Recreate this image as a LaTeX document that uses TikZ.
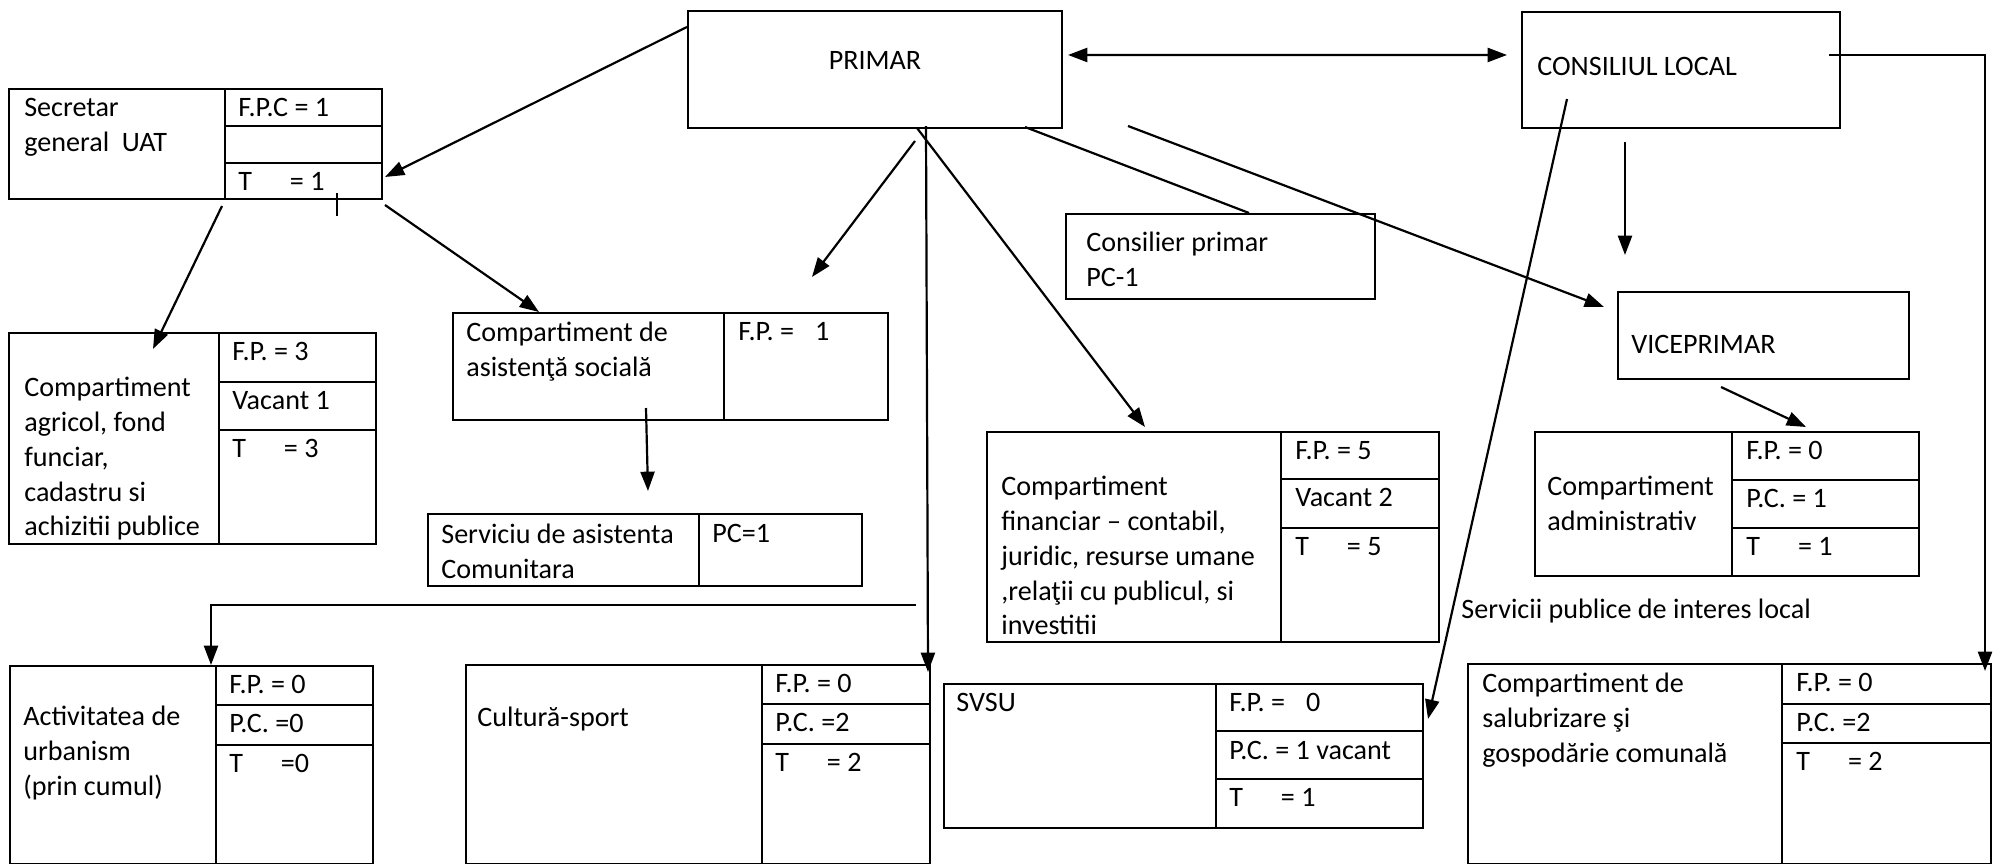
\documentclass[tikz,border=0pt]{standalone}
\usepackage{fontspec}
\setmainfont{Carlito}
\usetikzlibrary{arrows.meta,calc,fit}

\tikzset{
  cell/.style={draw, line width=1.15pt, inner sep=0pt},
  txt/.style={anchor=north west, inner sep=0pt, align=left},
  arr/.style={-{Triangle[length=11pt,width=8pt]}, line width=1.25pt},
}

\begin{document}
\begin{tikzpicture}[x=0.02cm, y=-0.02cm, font=\fontsize{16}{19.8}\selectfont]
      \useasboundingbox (0,0) rectangle (1994,864);
      \node[cell, fit={(688,11) (1062,128)}] (primar) {PRIMAR};
      \node[cell, fit={(1522,12) (1840,128)}] (cl) {};
      \node[cell, fit={(1066,214) (1375,299)}] (cons) {};
      \node[cell, fit={(1618,292) (1909,379)}] (vp) {};
      \node[cell, fit={(9,89) (225,199)}] (secL) {};
      \node[cell, fit={(225,89) (382,126)}] (secFP) {};
      \node[cell, fit={(225,126) (382,163)}] (secV) {};
      \node[cell, fit={(225,163) (382,199)}] (secT) {};
      \node[cell, fit={(9,333) (219,544)}] (agrL) {};
      \node[cell, fit={(219,333) (376,382)}] (agrFP) {};
      \node[cell, fit={(219,382) (376,430)}] (agrV) {};
      \node[cell, fit={(219,430) (376,544)}] (agrT) {};
      \node[cell, fit={(453,313) (724,420)}] (asL) {};
      \node[cell, fit={(724,313) (888,420)}] (asFP) {};
      \node[cell, fit={(428,514) (699,586)}] (srvL) {};
      \node[cell, fit={(699,514) (862,586)}] (srvPC) {};
      \node[cell, fit={(987,432) (1281,642)}] (finL) {};
      \node[cell, fit={(1281,432) (1439,479)}] (finFP) {};
      \node[cell, fit={(1281,479) (1439,528)}] (finV) {};
      \node[cell, fit={(1281,528) (1439,642)}] (finT) {};
      \node[cell, fit={(1535,432) (1732,576)}] (admL) {};
      \node[cell, fit={(1732,432) (1919,480)}] (admFP) {};
      \node[cell, fit={(1732,480) (1919,528)}] (admPC) {};
      \node[cell, fit={(1732,528) (1919,576)}] (admT) {};
      \node[cell, fit={(10,666) (216,864)}] (actL) {};
      \node[cell, fit={(216,666) (373,705)}] (actFP) {};
      \node[cell, fit={(216,705) (373,745)}] (actPC) {};
      \node[cell, fit={(216,745) (373,864)}] (actT) {};
      \node[cell, fit={(466,665) (762,864)}] (culL) {};
      \node[cell, fit={(762,665) (930,704)}] (culFP) {};
      \node[cell, fit={(762,704) (930,744)}] (culPC) {};
      \node[cell, fit={(762,744) (930,864)}] (culT) {};
      \node[cell, fit={(944,684) (1216,828)}] (svsuL) {};
      \node[cell, fit={(1216,684) (1423,731)}] (svsuFP) {};
      \node[cell, fit={(1216,731) (1423,779)}] (svsuPC) {};
      \node[cell, fit={(1216,779) (1423,828)}] (svsuT) {};
      \node[cell, fit={(1468,664) (1782,864)}] (salL) {};
      \node[cell, fit={(1782,664) (1991,704)}] (salFP) {};
      \node[cell, fit={(1782,704) (1991,743)}] (salPC) {};
      \node[cell, fit={(1782,743) (1991,864)}] (salT) {};

      % texts
      \node[anchor=west, inner sep=0pt] (tcl) at ($(cl.north west)+(16,55)$) {CONSILIUL LOCAL};
      \node[anchor=west, inner sep=0pt] (tvp) at ($(vp.north west)+(14,53)$) {VICEPRIMAR};
      \node[txt] (tcons) at ($(cons.north west)+(21,19)$) {Consilier primar\\PC-1};
      \node[txt] (tsec) at ($(secL.north west)+(16,10)$) {Secretar\\general\ \ UAT};
      \node[txt] (tsecFP) at ($(secFP.north west)+(14,10)$) {F.P.C = 1};
      \node[txt] (tsecT) at ($(secT.north west)+(14,10)$) {T\hspace{1.35em}= 1};
      \node[txt] (tagr) at ($(agrL.north west)+(16,45)$) {Compartiment\\agricol, fond\\funciar,\\cadastru si\\achizitii publice};
      \node[txt] (tagrFP) at ($(agrFP.north west)+(14,10)$) {F.P. = 3};
      \node[txt] (tagrV) at ($(agrV.north west)+(14,10)$) {Vacant 1};
      \node[txt] (tagrT) at ($(agrT.north west)+(14,10)$) {T\hspace{1.35em}= 3};
      \node[txt] (tas) at ($(asL.north west)+(14,10)$) {Compartiment de\\asistenţă socială};
      \node[txt] (tasFP) at ($(asFP.north west)+(15,10)$) {F.P. =\hspace{0.75em}1};
      \node[txt] (tsrv) at ($(srvL.north west)+(14,11)$) {Serviciu de asistenta\\Comunitara};
      \node[txt] (tsrvPC) at ($(srvPC.north west)+(14,11)$) {PC=1};
      \node[txt] (tfin) at ($(finL.north west)+(15,45)$) {Compartiment\\financiar – contabil,\\juridic, resurse umane\\,relaţii cu publicul, si\\investitii};
      \node[txt] (tfinFP) at ($(finFP.north west)+(15,10)$) {F.P. = 5};
      \node[txt] (tfinV) at ($(finV.north west)+(15,10)$) {Vacant 2};
      \node[txt] (tfinT) at ($(finT.north west)+(15,10)$) {T\hspace{1.35em}= 5};
      \node[txt] (tadm) at ($(admL.north west)+(13,45)$) {Compartiment\\administrativ};
      \node[txt] (tadmFP) at ($(admFP.north west)+(15,10)$) {F.P. = 0};
      \node[txt] (tadmPC) at ($(admPC.north west)+(15,10)$) {P.C. = 1};
      \node[txt] (tadmT) at ($(admT.north west)+(15,10)$) {T\hspace{1.35em}= 1};
      \node[anchor=west, inner sep=0pt] (tserv) at ($(salL.north west)+(-6,-52)$) {Servicii publice de interes local};
      \node[txt] (tact) at ($(actL.north west)+(14,41)$) {Activitatea de\\urbanism\\(prin cumul)};
      \node[txt] (tactFP) at ($(actFP.north west)+(14,10)$) {F.P. = 0};
      \node[txt] (tactPC) at ($(actPC.north west)+(14,10)$) {P.C. =0};
      \node[txt] (tactT) at ($(actT.north west)+(14,10)$) {T\hspace{1.35em}=0};
      \node[txt] (tcul) at ($(culL.north west)+(12,43)$) {Cultură-sport};
      \node[txt] (tculFP) at ($(culFP.north west)+(14,10)$) {F.P. = 0};
      \node[txt] (tculPC) at ($(culPC.north west)+(14,10)$) {P.C. =2};
      \node[txt] (tculT) at ($(culT.north west)+(14,10)$) {T\hspace{1.35em}= 2};
      \node[txt] (tsvsu) at ($(svsuL.north west)+(13,10)$) {SVSU};
      \node[txt] (tsvsuFP) at ($(svsuFP.north west)+(14,10)$) {F.P. =\hspace{0.75em}0};
      \node[txt] (tsvsuPC) at ($(svsuPC.north west)+(14,11)$) {P.C. = 1 vacant};
      \node[txt] (tsvsuT) at ($(svsuT.north west)+(14,10)$) {T\hspace{1.35em}= 1};
      \node[txt] (tsal) at ($(salL.north west)+(15,10)$) {Compartiment de\\salubrizare şi\\gospodărie comunală};
      \node[txt] (tsalFP) at ($(salFP.north west)+(15,10)$) {F.P. = 0};
      \node[txt] (tsalPC) at ($(salPC.north west)+(15,10)$) {P.C. =2};
      \node[txt] (tsalT) at ($(salT.north west)+(15,10)$) {T\hspace{1.35em}= 2};

      \coordinate (split) at ($(culFP.north east)+(-15,-59)$);
      \begin{scope}[arr]
        \draw ($(primar.north west)+(0,17)$) to ($(secT.north east)+(2,15)$);
        \draw[{Triangle[length=11pt,width=8pt]}-{Triangle[length=11pt,width=8pt]}] ($(primar.north east)+(5,45)$) to ($(cl.north west)+(-14,44)$);
        \draw ($(cl.north east)+(-12,44)$) -| ($(salFP.north east)+(-7,8)$);
        \draw ($(cl.south west)+(46,-30)$) to ($(svsuFP.north east)+(4,36)$);
        \draw ($(cl.south west)+(104,13)$) to ($(vp.north west)+(8,-36)$);
        \draw ($(primar.south east)+(65,-3)$) to ($(vp.north west)+(-13,16)$);
        \draw[-] ($(primar.south east)+(-38,-2)$) to ($(cons.north west)+(184,0)$);
        \draw ($(primar.south west)+(228,12)$) to ($(asFP.north west)+(89,-35)$);
        \draw ($(primar.south west)+(239,-3)$) to ($(culFP.north east)+(-3,8)$);
        \draw ($(primar.south west)+(230,-1)$) to ($(finL.north west)+(159,-4)$);
        \draw (split) -| ($(actL.north east)+(-6,0)$);
        \draw ($(secL.south east)+(-4,6)$) to ($(agrL.north west)+(145,17)$);
        \draw ($(secT.south east)+(2,5)$) to ($(asL.north west)+(87,0)$);
        \draw ($(asL.south west)+(194,-13)$) to ($(srvL.north west)+(221,-22)$);
        \draw ($(vp.south west)+(104,7)$) to ($(admFP.north west)+(75,-4)$);
        \draw[-] ($(secT.south west)+(113,-7)$) -- ++(0,23);
      \end{scope}
    \end{tikzpicture}
\end{document}
